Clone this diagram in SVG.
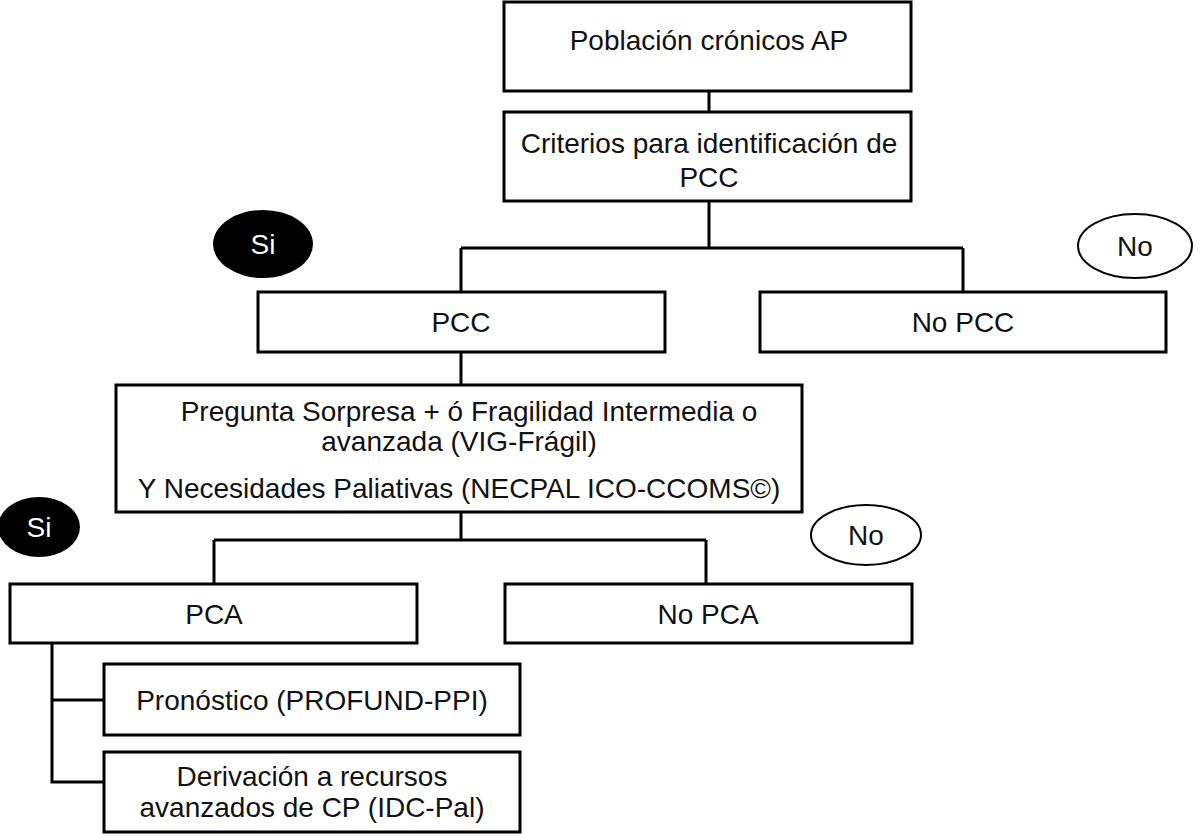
<svg xmlns="http://www.w3.org/2000/svg" width="1200" height="838" viewBox="0 0 1200 838">
<style>
.b{fill:#fff;stroke:#000;stroke-width:3}
.t{font-family:"Liberation Sans",Arial,sans-serif;font-size:28px;fill:#111;text-anchor:middle}
.c{fill:none;stroke:#000;stroke-width:3}
</style>
<rect width="1200" height="838" fill="#fff"/>
<g id="connectors">
<path class="c" d="M709 91V112M709 201V248M461 248H963M461 248V292M963 248V292M461 352V385M461 512V540M214 540H706M214 540V584M706 540V584M52 643V782H104M52 700H104"/>
</g>
<g id="n1"><rect class="b" x="504" y="2" width="407" height="89"/><text class="t" x="709" y="50">Población crónicos AP</text></g>
<g id="n2"><rect class="b" x="504" y="112" width="407" height="89"/><text class="t" x="709" y="153">Criterios para identificación de</text><text class="t" x="709" y="187">PCC</text></g>
<g id="si1"><ellipse cx="263" cy="244" rx="50" ry="34" fill="#000"/><text class="t" x="263" y="254" style="fill:#fff">Si</text></g>
<g id="no1"><ellipse cx="1135" cy="246" rx="57" ry="32" fill="#fff" stroke="#000" stroke-width="2"/><text class="t" x="1135" y="256">No</text></g>
<g id="pcc"><rect class="b" x="258" y="292" width="407" height="60"/><text class="t" x="461" y="332">PCC</text></g>
<g id="nopcc"><rect class="b" x="760" y="292" width="406" height="60"/><text class="t" x="963" y="332">No PCC</text></g>
<g id="n3"><rect class="b" x="116" y="385" width="686" height="127"/><text class="t" x="469" y="421">Pregunta Sorpresa + ó Fragilidad Intermedia o</text><text class="t" x="459" y="451">avanzada (VIG-Frágil)</text><text class="t" x="459" y="498">Y Necesidades Paliativas (NECPAL ICO-CCOMS©)</text></g>
<g id="si2"><ellipse cx="39" cy="527" rx="41" ry="30" fill="#000"/><text class="t" x="39" y="537" style="fill:#fff">Si</text></g>
<g id="no2"><ellipse cx="866" cy="535" rx="55" ry="30" fill="#fff" stroke="#000" stroke-width="2"/><text class="t" x="866" y="545">No</text></g>
<g id="pca"><rect class="b" x="10" y="584" width="407" height="59"/><text class="t" x="214" y="624">PCA</text></g>
<g id="nopca"><rect class="b" x="505" y="584" width="407" height="59"/><text class="t" x="708" y="624">No PCA</text></g>
<g id="pron"><rect class="b" x="104" y="664" width="416" height="71"/><text class="t" x="312" y="710">Pronóstico (PROFUND-PPI)</text></g>
<g id="deriv"><rect class="b" x="104" y="752" width="416" height="80"/><text class="t" x="312" y="786">Derivación a recursos</text><text class="t" x="312" y="817">avanzados de CP (IDC-Pal)</text></g>
</svg>
